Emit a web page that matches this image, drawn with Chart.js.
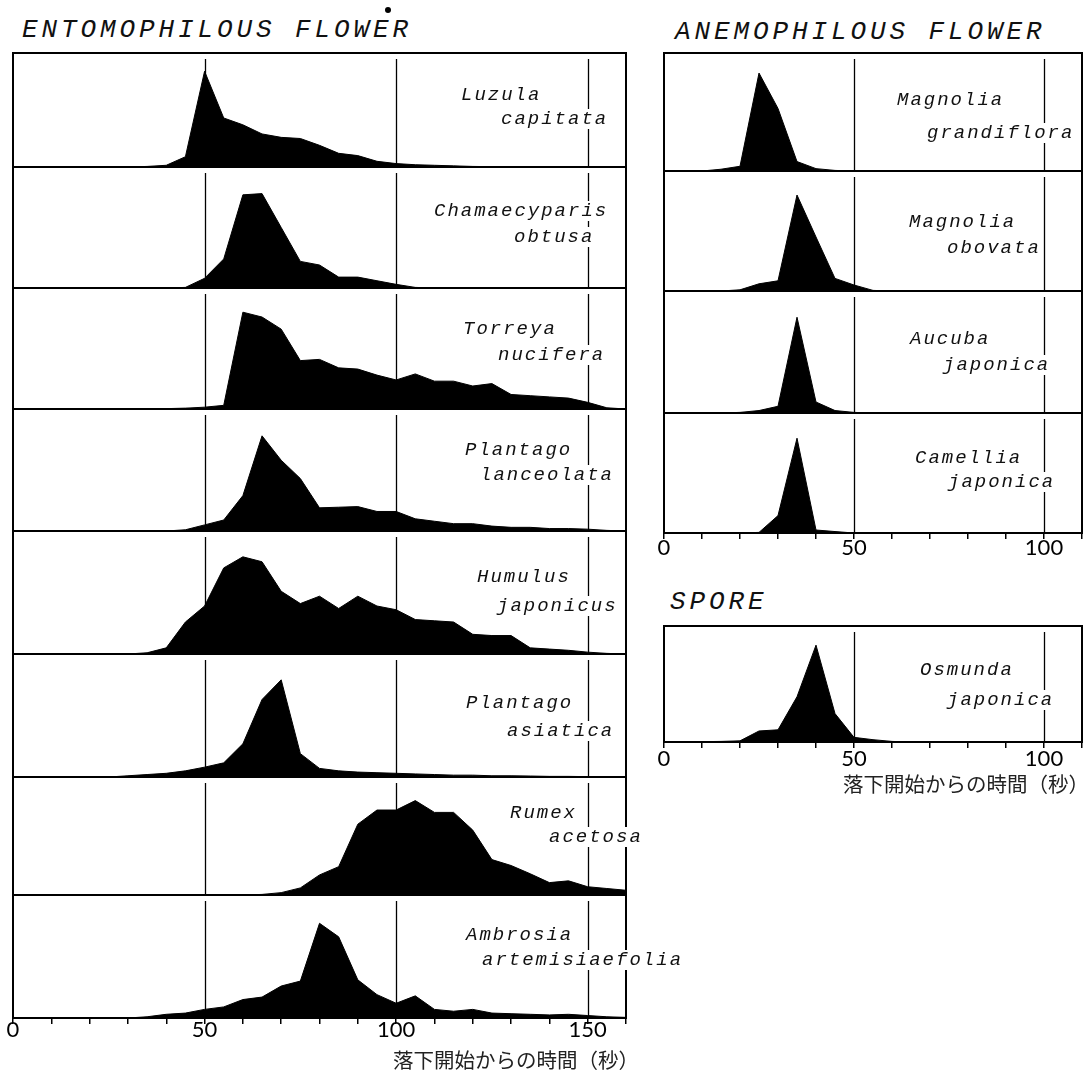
<!DOCTYPE html>
<html><head><meta charset="utf-8">
<script src="https://cdn.jsdelivr.net/npm/chart.js@4.4.1/dist/chart.umd.min.js"></script>
<style>
html,body{margin:0;padding:0;background:#fff;}
body{width:1084px;height:1077px;position:relative;overflow:hidden;}
canvas{position:absolute;}
.ttl{position:absolute;font:italic 26px "Liberation Mono",monospace;letter-spacing:3.9px;line-height:26px;color:#111;white-space:nowrap;}
.dot{position:absolute;width:6px;height:6px;border-radius:50%;background:#000;}
</style></head><body>
<div class="ttl" style="left:22px;top:17px">ENTOMOPHILOUS FLOWER</div>
<div class="dot" style="left:385px;top:7px"></div>
<div class="ttl" style="left:675px;top:19px">ANEMOPHILOUS FLOWER</div>
<div class="ttl" style="left:670px;top:589px">SPORE</div>
<script>
// ---------- data ----------
const timesLeft  = [0,5,10,15,20,25,30,35,40,45,50,55,60,65,70,75,80,85,90,95,100,105,110,115,120,125,130,135,140,145,150,155,160];
const timesRight = [0,5,10,15,20,25,30,35,40,45,50,55,60,65,70,75,80,85,90,95,100,105,110];

const luzula        = [0,0,0,0,0,0,0,0.5,1.5,9,84,43,37,29,26,25,19,12,10,5,3,2,1.5,1,0.5,0.3,0,0,0,0,0,0,0];
const chamaecyparis = [0,0,0,0,0,0,0,0,0,0.5,8,24,77,78,50,22,19,9,9,6,3,0.5,0,0,0,0,0,0,0,0,0,0,0];
const torreya       = [0,0,0,0,0,0,0,0,0.3,0.7,1.5,3,80,76,66,40,41,34,33,28,24,29,23,23,19,21,12,11,10,9,5.5,1,0];
const plantagoL     = [0,0,0,0,0,0,0,0,0,1,5,9,29,78,58,43,19,19.5,20,16,16,10,8,6,6,4,3,3,2,2,1.5,0.5,0];
const humulus       = [0,0,0,0,0,0,0,1,5,26,39,70,79,75,51,41,47,37,47,39,36,28,27,26,16,15,15,5,4,3,1.5,0.5,0];
const plantagoA     = [0,0,0,0,0,0,1,2,3,5,8,11.5,27,63,79,19,7,5,4,3.5,3,2.5,2,1.5,1.5,1,1,0.8,0.5,0.5,0.3,0,0];
const rumex         = [0,0,0,0,0,0,0,0,0,0,0,0,0,0.5,2,6,17,24,60,72,72,80,70,70,55,30,25,18,10.5,12,7,5.5,4];
const ambrosia      = [0,0,0,0,0,0,0,1,3,4,7,9,15,17,26,30,77,66,31,19,12,18,7,5.5,7,4,3.5,3,2.5,3,2,1,0.5];

const magnoliaG = [0,0,0,1.5,4,83,53,8,2,0.5,0,0,0,0,0,0,0,0,0,0,0,0,0];
const magnoliaO = [0,0,0,0,1,6,8.5,80,45,10.5,5,0.5,0,0,0,0,0,0,0,0,0,0,0];
const aucuba    = [0,0,0,0,0.5,2,5.5,78.5,9,2,0.5,0,0,0,0,0,0,0,0,0,0,0,0];
const camellia  = [0,0,0,0,0,0.5,14.5,79,2.5,1.2,0,0,0,0,0,0,0,0,0,0,0,0,0];
const osmunda   = [0.3,0.3,0.3,0.5,1,9.5,10.5,39,83.5,24.5,4,2,0.5,0,0,0,0,0,0,0,0,0,0];

const tickLabelsLeft  = [0,50,100,150];
const tickLabelsRight = [0,50,100];
const guidesLeft  = [50,100,150];
const guidesRight = [50,100];
const xTitle = '落下開始からの時間（秒）';

const namesLeft = [['Luzula','capitata'],['Chamaecyparis','obtusa'],['Torreya','nucifera'],['Plantago','lanceolata'],
                   ['Humulus','japonicus'],['Plantago','asiatica'],['Rumex','acetosa'],['Ambrosia','artemisiaefolia']];
const namesRight = [['Magnolia','grandiflora'],['Magnolia','obovata'],['Aucuba','japonica'],['Camellia','japonica']];
const namesSpore = [['Osmunda','japonica']];

// ---------- layout (pixels) ----------
const leftBounds  = [53,167,288,409,531,654,777,895,1018];
const rightBounds = [53,171,291,413,533];
const sporeBounds = [626,742];
const labelPosLeft = [[[448,42],[488,66]],[[421,44],[501,70]],[[450,41],[485,67]],[[452,41],[467,66]],
                      [[464,46],[484,75]],[[453,49],[494,77]],[[497,36],[536,60]],[[453,40],[469,65]]];
const labelPosRight = [[[233,47],[263,80]],[[245,51],[283,77]],[[246,48],[279,74]],[[251,45],[284,69]]];
const labelPosSpore = [[[256,44],[283,74]]];

function decor(guides, labels, xt){
  return {
    id:'decor',
    afterDraw(chart){
      const {ctx, chartArea:a, scales:{x}} = chart;
      ctx.save();
      ctx.strokeStyle = '#000';
      ctx.lineWidth = 1.3;
      guides.forEach(v => {
        const px = Math.round(x.getPixelForValue(v)) + 0.5;
        ctx.beginPath(); ctx.moveTo(px, a.top + 6); ctx.lineTo(px, a.bottom); ctx.stroke();
      });
      ctx.lineWidth = 2;
      ctx.strokeRect(a.left, a.top, a.right - a.left, a.bottom - a.top);
      if (xt) {
        ctx.font = '20.5px "Noto Sans CJK JP", sans-serif';
        ctx.fillStyle = '#222';
        ctx.textAlign = 'right';
        ctx.textBaseline = 'middle';
        ctx.fillText(xTitle, a.right + xt.dx, a.bottom + xt.dy);
      }
      ctx.font = 'italic 19px "Liberation Mono", monospace';
      try { ctx.letterSpacing = '2px'; } catch(e) {}
      ctx.textBaseline = 'middle';
      ctx.textAlign = 'left';
      labels.forEach(l => {
        const tx = a.left + l.dx, ty = a.top + l.dy;
        const w = ctx.measureText(l.text).width;
        ctx.fillStyle = '#fff';
        ctx.fillRect(tx - 3, ty - 10, w + 4, 20);
        ctx.fillStyle = '#111';
        ctx.fillText(l.text, tx, ty);
      });
      ctx.restore();
    }
  };
}

function panel(o){
  const cv = document.createElement('canvas');
  cv.width = o.cw; cv.height = o.ch;
  cv.style.left = o.cl + 'px'; cv.style.top = o.ct + 'px';
  document.body.appendChild(cv);
  const ax = o.axis;
  const padBottom = o.ct + o.ch - o.B - (ax ? ax.h : 0);
  const labels = [];
  o.names.forEach((n, i) => labels.push({text:n, dx:o.pos[i][0], dy:o.pos[i][1]}));
  new Chart(cv, {
    type:'line',
    data:{ datasets:[{
      data: o.times.map((t, i) => ({x:t, y:o.values[i]})),
      fill:'origin', backgroundColor:'#000', borderColor:'#000', borderWidth:1,
      pointRadius:0, tension:0
    }]},
    options:{
      responsive:false, animation:false, events:[],
      layout:{padding:{left:o.L - o.cl, right:o.cl + o.cw - o.R, top:o.T - o.ct, bottom:padBottom}},
      plugins:{legend:{display:false}, tooltip:{enabled:false}},
      scales:{
        x:{
          type:'linear', min:0, max:o.xMax, display: !!ax, offset:false,
          border:{display:false},
          grid:{display:true, drawOnChartArea:false, drawTicks:true, tickLength:6, color:'#000', lineWidth:1.5},
          ticks:{stepSize:10, autoSkip:false, maxRotation:0, minRotation:0, padding: ax ? ax.pad : 0, color:'#000',
                 font:{family:'Lato, "DejaVu Sans", sans-serif', size:22, lineHeight:1},
                 callback:(v) => o.tickLabels.includes(v) ? String(v) : ''},
          title:{display:false},
          afterFit:(s) => { if (ax) s.height = ax.h; }
        },
        y:{min:0, max:100, display:false}
      }
    },
    plugins:[decor(o.guides, labels, ax && ax.title ? ax.title : null)]
  });
}

const leftSeries = [luzula, chamaecyparis, torreya, plantagoL, humulus, plantagoA, rumex, ambrosia];
leftSeries.forEach((vals, i) => {
  const T = leftBounds[i], B = leftBounds[i + 1];
  const last = i === leftSeries.length - 1;
  panel({
    cl:0, cw:700, ct:T - 6, ch: last ? 1077 - (T - 6) : (B - T) + 12,
    L:13, R:626, T, B, xMax:160, times:timesLeft, values:vals,
    guides:guidesLeft, tickLabels:tickLabelsLeft,
    names:namesLeft[i], pos:labelPosLeft[i],
    axis: last ? {h:32, pad:-5, title:{dx:13, dy:42}} : null
  });
});

const rightSeries = [magnoliaG, magnoliaO, aucuba, camellia];
rightSeries.forEach((vals, i) => {
  const T = rightBounds[i], B = rightBounds[i + 1];
  const last = i === rightSeries.length - 1;
  panel({
    cl:650, cw:434, ct:T - 6, ch: last ? (B - T) + 6 + 36 : (B - T) + 12,
    L:664, R:1082, T, B, xMax:110, times:timesRight, values:vals,
    guides:guidesRight, tickLabels:tickLabelsRight,
    names:namesRight[i], pos:labelPosRight[i],
    axis: last ? {h:32, pad:-2, title:null} : null
  });
});

panel({
  cl:650, cw:434, ct:sporeBounds[0] - 6, ch:180,
  L:664, R:1082, T:sporeBounds[0], B:sporeBounds[1], xMax:110, times:timesRight, values:osmunda,
  guides:guidesRight, tickLabels:tickLabelsRight,
  names:namesSpore[0], pos:labelPosSpore[0],
  axis:{h:32, pad:0, title:{dx:7, dy:42}}
});
</script>
</body></html>
